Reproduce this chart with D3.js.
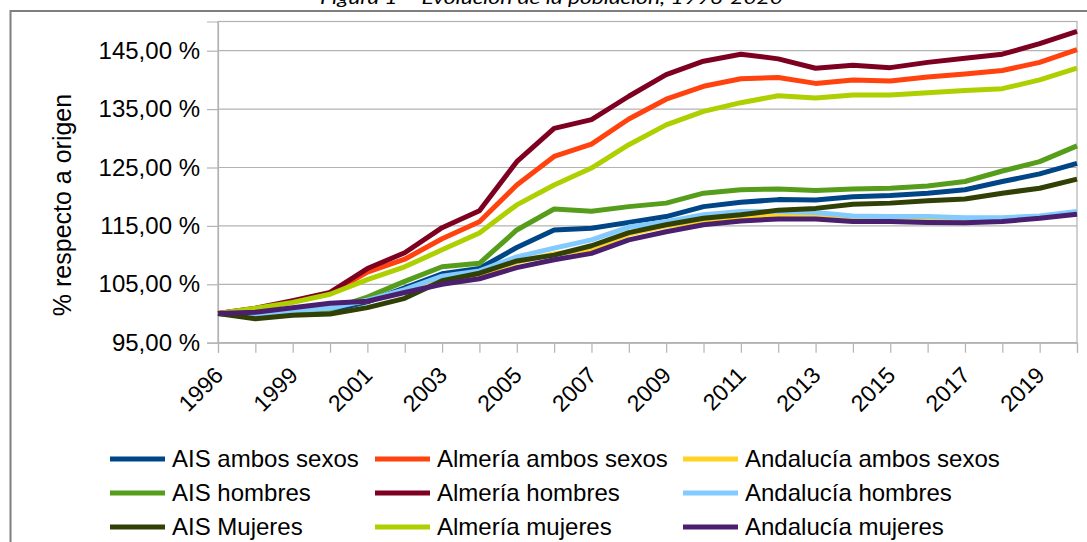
<!DOCTYPE html>
<html>
<head>
<meta charset="utf-8">
<script src="https://cdn.jsdelivr.net/npm/d3@7"></script>
<style>
  html, body { margin: 0; padding: 0; background: #fff; }
  svg { display: block; }
  text { font-family: "Liberation Sans", Arial, sans-serif; fill: #000; }
</style>
</head>
<body>
<div id="chart"></div>
<script>
// ---------- DATA ----------
const years = ["1996","1998","1999","2000","2001","2002","2003","2004","2005","2006","2007","2008",
               "2009","2010","2011","2012","2013","2014","2015","2016","2017","2018","2019","2020"];
const xTickLabels = ["1996","1999","2001","2003","2005","2007","2009","2011","2013","2015","2017","2019"];
const yTickValues = [95, 105, 115, 125, 135, 145];

const aisAmbos      = [100, 99.5, 100.1, 100.5, 102.0, 104.4, 106.8, 107.7, 111.3, 114.3, 114.6, 115.6, 116.6, 118.3, 119.05, 119.5, 119.45, 120.0, 120.2, 120.6, 121.2, 122.6, 123.9, 125.7];
const almeriaAmbos  = [100, 100.8, 102.0, 103.4, 107.1, 109.3, 112.8, 115.7, 122.0, 126.9, 129.0, 133.3, 136.7, 138.9, 140.2, 140.4, 139.4, 140.0, 139.8, 140.5, 141.0, 141.6, 143.0, 145.2];
const andaluciaAmbos= [100, 99.95, 100.75, 101.3, 102.2, 103.85, 105.7, 106.6, 108.8, 110.2, 111.05, 113.6, 115.0, 115.9, 116.5, 116.8, 116.75, 116.25, 116.2, 116.1, 116.0, 116.1, 116.5, 117.2];
const aisHombres    = [100, 99.6, 100.3, 100.7, 102.8, 105.5, 108.0, 108.6, 114.3, 117.9, 117.5, 118.3, 118.9, 120.6, 121.2, 121.3, 121.05, 121.3, 121.45, 121.85, 122.6, 124.4, 126.0, 128.7];
const almeriaHombres= [100, 100.9, 102.2, 103.6, 107.7, 110.4, 114.7, 117.6, 126.0, 131.7, 133.2, 137.2, 140.9, 143.2, 144.4, 143.6, 142.0, 142.5, 142.1, 143.0, 143.7, 144.4, 146.2, 148.3];
const andaluciaHombres=[100, 99.7, 100.5, 100.9, 102.3, 104.1, 106.4, 107.3, 109.7, 111.2, 112.6, 114.8, 115.7, 116.9, 117.45, 117.45, 117.3, 116.7, 116.6, 116.6, 116.4, 116.4, 116.7, 117.45];
const aisMujeres    = [100, 99.1, 99.7, 99.9, 101.0, 102.6, 105.6, 106.9, 109.0, 110.0, 111.6, 113.85, 115.2, 116.3, 116.9, 117.7, 118.0, 118.7, 118.9, 119.3, 119.6, 120.6, 121.45, 123.0];
const almeriaMujeres= [100, 100.9, 101.9, 103.3, 105.8, 108.0, 110.9, 113.8, 118.6, 122.0, 124.9, 128.9, 132.3, 134.6, 136.1, 137.3, 136.9, 137.4, 137.4, 137.8, 138.2, 138.5, 140.0, 142.0];
const andaluciaMujeres=[100, 100.2, 101.0, 101.75, 102.1, 103.6, 105.0, 105.95, 107.85, 109.2, 110.3, 112.6, 114.0, 115.2, 115.85, 116.2, 116.2, 115.75, 115.75, 115.6, 115.55, 115.75, 116.3, 117.0];

const seriesNames = ["AIS ambos sexos","Almería ambos sexos","Andalucía ambos sexos",
                     "AIS hombres","Almería hombres","Andalucía hombres",
                     "AIS Mujeres","Almería mujeres","Andalucía mujeres"];
const seriesValues = [aisAmbos, almeriaAmbos, andaluciaAmbos,
                      aisHombres, almeriaHombres, andaluciaHombres,
                      aisMujeres, almeriaMujeres, andaluciaMujeres];
const seriesColors = ["#004586","#ff420e","#ffd320","#579d1c","#7e0021","#83caff","#314004","#aecf00","#4b1f6f"];

// ---------- LAYOUT ----------
const W = 1087, H = 542;
const plot = { left: 218, right: 1077, top: 21.5, bottom: 342.7 };
const FONT = "'Liberation Sans', Arial, sans-serif";

const svg = d3.select("#chart").append("svg").attr("width", W).attr("height", H);
svg.append("rect").attr("width", W).attr("height", H).attr("fill", "#fff");

// outer frame
svg.append("path")
  .attr("d", `M10.5,${H} L10.5,11 L${W},11`)
  .attr("fill", "none").attr("stroke", "#7f7f7f").attr("stroke-width", 2);

// title (partly above the top edge, as in the reference)
svg.append("text")
  .attr("x", 551.5).attr("y", 4)
  .attr("text-anchor", "middle")
  .attr("textLength", 463).attr("lengthAdjust", "spacingAndGlyphs")
  .style("font-family", "Lato, 'Open Sans', sans-serif")
  .style("font-style", "italic")
  .style("font-size", "18px")
  .text("Figura 1 – Evolución de la población, 1996-2020");

const x = d3.scalePoint().domain(years).range([plot.left, plot.right]);
const y = d3.scaleLinear().domain([95, 150]).range([plot.bottom, plot.top]);

// gridlines
svg.append("g").selectAll("line").data(yTickValues).join("line")
  .attr("x1", plot.left).attr("x2", plot.right)
  .attr("y1", d => y(d)).attr("y2", d => y(d))
  .attr("stroke", "#b3b3b3").attr("stroke-width", 1.2);

// plot frame
svg.append("rect")
  .attr("x", plot.left).attr("y", plot.top)
  .attr("width", plot.right - plot.left).attr("height", plot.bottom - plot.top)
  .attr("fill", "none").attr("stroke", "#b3b3b3").attr("stroke-width", 1.2);

// y axis
const fmtY = d => d3.format(".2f")(d).replace(".", ",") + " %";
const yAxis = svg.append("g").attr("transform", `translate(${plot.left},0)`)
  .call(d3.axisLeft(y).tickValues(yTickValues).tickSize(11).tickPadding(7).tickFormat(fmtY));
yAxis.select(".domain").attr("stroke", "#b3b3b3").attr("stroke-width", 1.2);
yAxis.selectAll(".tick line").attr("stroke", "#b3b3b3").attr("stroke-width", 1.2);
yAxis.selectAll(".tick text").style("font-size", "24px").style("font-family", FONT).attr("fill", "#000");

// x axis
const xAxis = svg.append("g").attr("transform", `translate(0,${plot.bottom})`)
  .call(d3.axisBottom(x).tickSize(10).tickFormat(d => xTickLabels.includes(d) ? d : ""));
xAxis.select(".domain").attr("stroke", "#b3b3b3").attr("stroke-width", 1.2);
xAxis.selectAll(".tick line").attr("stroke", "#b3b3b3").attr("stroke-width", 1.2);
xAxis.selectAll(".tick text")
  .style("font-size", "23px").style("font-family", FONT)
  .attr("fill", "#000")
  .attr("text-anchor", "end")
  .attr("dy", null).attr("y", null)
  .attr("transform", "translate(6,34) rotate(-45)");

// y axis title
svg.append("text")
  .attr("transform", "translate(71,205) rotate(-90)")
  .attr("text-anchor", "middle")
  .style("font-size", "25px")
  .text("% respecto a origen");

// series lines
const line = d3.line().x((d, i) => x(years[i])).y(d => y(d));
svg.append("g").selectAll("path").data(seriesValues).join("path")
  .attr("d", d => line(d))
  .attr("fill", "none")
  .attr("stroke", (d, i) => seriesColors[i])
  .attr("stroke-width", 5)
  .attr("stroke-linejoin", "round");

// legend (3 columns, row-wise fill)
const legLineX = [110, 375, 683];
const legRowY = [459, 493, 527];
const leg = svg.append("g").selectAll("g").data(seriesNames).join("g")
  .attr("transform", (d, i) => `translate(${legLineX[i % 3]},${legRowY[Math.floor(i / 3)]})`);
leg.append("line").attr("x1", 0).attr("x2", 55).attr("y1", 0).attr("y2", 0)
  .attr("stroke", (d, i) => seriesColors[i]).attr("stroke-width", 5);
leg.append("text").attr("x", 62).attr("y", 0).attr("dy", "0.35em")
  .style("font-size", "24px").text(d => d);
</script>
</body>
</html>
